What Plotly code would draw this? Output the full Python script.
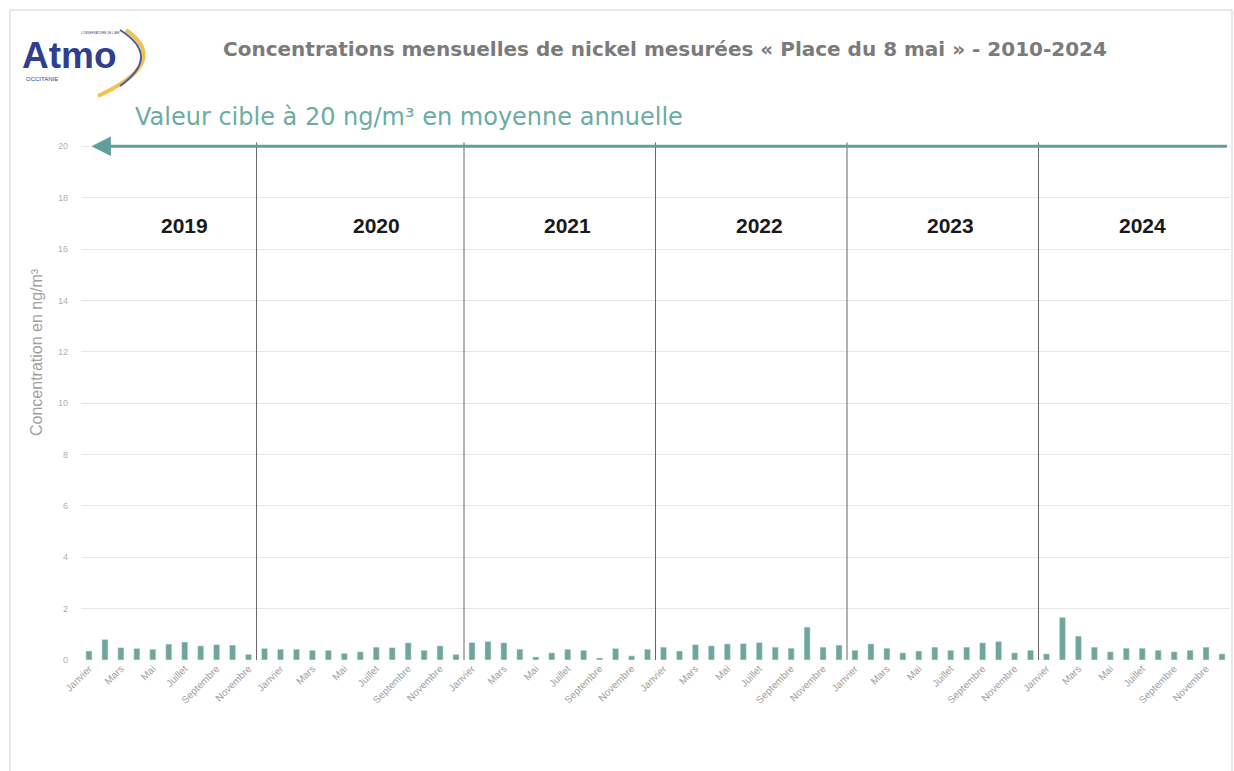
import plotly.graph_objects as go

# Monthly nickel concentrations (ng/m³), "Place du 8 mai" station
years = ["2019", "2020", "2021", "2022", "2023", "2024"]
months = ["Janvier", "Février", "Mars", "Avril", "Mai", "Juin", "Juillet",
          "Août", "Septembre", "Octobre", "Novembre", "Décembre"]

nickel_2019 = [0.35, 0.80, 0.48, 0.45, 0.42, 0.62, 0.70, 0.55, 0.60, 0.58, 0.22, 0.45]
nickel_2020 = [0.42, 0.42, 0.38, 0.38, 0.26, 0.32, 0.50, 0.48, 0.67, 0.38, 0.55, 0.22]
nickel_2021 = [0.68, 0.72, 0.67, 0.42, 0.12, 0.28, 0.42, 0.38, 0.08, 0.45, 0.16, 0.42]
nickel_2022 = [0.50, 0.35, 0.60, 0.55, 0.63, 0.64, 0.68, 0.50, 0.46, 1.28, 0.50, 0.58]
nickel_2023 = [0.38, 0.63, 0.46, 0.28, 0.35, 0.50, 0.38, 0.50, 0.67, 0.72, 0.28, 0.38]
nickel_2024 = [0.24, 1.66, 0.93, 0.50, 0.32, 0.46, 0.46, 0.38, 0.32, 0.38, 0.50, 0.24]

target_value = 20  # annual mean target value, ng/m³
y_ticks = [0, 2, 4, 6, 8, 10, 12, 14, 16, 18, 20]

series = [nickel_2019, nickel_2020, nickel_2021, nickel_2022, nickel_2023, nickel_2024]
values = [v for year_vals in series for v in year_vals]
x_idx = list(range(len(values)))
hover = [f"{m} {y}" for y in years for m in months]

# labelled months: every other month of each year
tick_vals = [i for i in x_idx if i % 2 == 0]
tick_text = [months[i % 12] for i in tick_vals]

# year separators (category positions) and year-label positions
year_breaks = [10.5, 23.5, 35.5, 47.5, 59.5]
year_label_x = [12 * i + 6.0 for i in range(len(years))]

# page geometry in pixels
W, H = 1234, 771
L, R, T, B = 81, 1230, 136, 660
Y_MAX = 20.4


def paper(xp, yp):
    return (xp - L) / (R - L), (B - yp) / (B - T)


TEAL = "#5f9f97"
BAR = "#6ea69c"

fig = go.Figure()
fig.add_trace(go.Bar(
    x=x_idx, y=values, width=0.38, marker_color=BAR,
    hovertext=hover, hoverinfo="text+y", showlegend=False,
))

shapes = []
for xb in year_breaks:
    shapes.append(dict(type="line", xref="x", yref="y", x0=xb, x1=xb,
                       y0=0, y1=20.15, line=dict(color="#666666", width=1)))

# outer frame
fx0, fy0 = paper(10, 10)
fx1, fy1 = paper(1232, 790)
shapes.append(dict(type="rect", xref="paper", yref="paper",
                   x0=fx0, y0=fy1, x1=fx1, y1=fy0,
                   line=dict(color="#d0d0d0", width=1), layer="below"))


def arc_path(points):
    p = [paper(*pt) for pt in points]
    return (f"M {p[0][0]},{p[0][1]} Q {p[1][0]},{p[1][1]} {p[2][0]},{p[2][1]}")


# logo arcs
shapes.append(dict(type="path", xref="paper", yref="paper",
                   path=arc_path([(126, 30), (172, 62), (98, 96)]),
                   line=dict(color="#f2c14e", width=4)))
shapes.append(dict(type="path", xref="paper", yref="paper",
                   path=arc_path([(120, 30), (162, 56), (120, 86)]),
                   line=dict(color="#4a5aa8", width=2)))

annotations = []
# target-value arrow
annotations.append(dict(x=0.15, y=target_value, ax=71.4, ay=target_value,
                        xref="x", yref="y", axref="x", ayref="y", text="",
                        showarrow=True, arrowhead=2, arrowsize=1.3,
                        arrowwidth=3, arrowcolor=TEAL))

for yr, xp in zip(years, year_label_x):
    annotations.append(dict(x=xp, y=16.9, xref="x", yref="y", text=f"<b>{yr}</b>",
                            showarrow=False, xanchor="center", yanchor="middle",
                            font=dict(size=21, color="#1a1a1a", family="Liberation Sans")))


def text_at(xp, yp, text, size, color, family="Liberation Sans", **kw):
    px, py = paper(xp, yp)
    d = dict(x=px, y=py, xref="paper", yref="paper", text=text, showarrow=False,
             xanchor="center", yanchor="middle",
             font=dict(size=size, color=color, family=family))
    d.update(kw)
    annotations.append(d)


text_at(665, 49, "<b>Concentrations mensuelles de nickel mesurées « Place du 8 mai » - 2010-2024</b>",
        20, "#7b7b7b", family="DejaVu Sans")
text_at(409, 117, "Valeur cible à 20 ng/m³ en moyenne annuelle", 24, "#6aaca4",
        family="DejaVu Sans")
text_at(36, 352, "Concentration en ng/m³", 16, "#a0a0a0", textangle=-90)
text_at(69, 55, "<b>Atmo</b>", 37, "#2f3f8f")
text_at(42, 79, "OCCITANIE", 6, "#2f3f8f")
text_at(100, 33, "L'OBSERVATOIRE DE L'AIR", 3, "#2f3f8f")

fig.update_layout(
    width=W, height=H,
    margin=dict(l=L, r=W - R, t=T, b=H - B),
    paper_bgcolor="white", plot_bgcolor="white",
    shapes=shapes, annotations=annotations,
    bargap=0.6,
    xaxis=dict(range=[-0.5, len(values) - 0.5], tickmode="array",
               tickvals=tick_vals, ticktext=tick_text, tickangle=-45,
               tickfont=dict(size=10, color="#a0a0a0", family="Liberation Sans"),
               showgrid=False, zeroline=False, showline=False, ticks=""),
    yaxis=dict(range=[0, Y_MAX], tickmode="array", tickvals=y_ticks,
               tickfont=dict(size=9, color="#b0b0b0", family="Liberation Sans"),
               showgrid=True, gridcolor="#e6e6e6", gridwidth=1,
               zeroline=False, showline=False, ticks="", ticklabelstandoff=12),
)

fig.write_html("out.html")
